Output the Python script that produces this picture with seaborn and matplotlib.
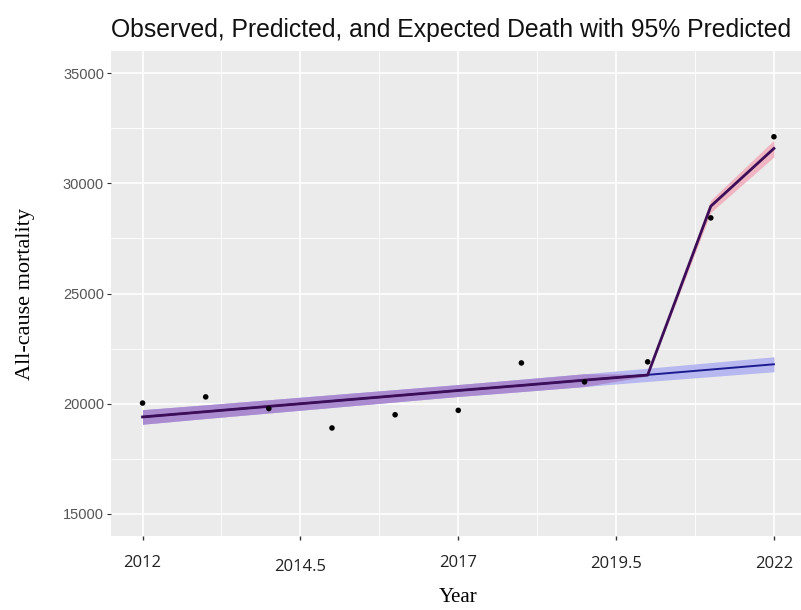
import seaborn as sns
from matplotlib import pyplot as plt
from matplotlib import transforms
import pandas as pd

# values
years = [2012, 2013, 2014, 2015, 2016, 2017, 2018, 2019, 2020, 2021, 2022]
observed = [20030, 20310, 19780, 18900, 19500, 19700, 21850, 20990, 21900, 28430, 32110]
expected = [19400, 19640, 19880, 20120, 20360, 20600, 20830, 21070, 21310, 21550, 21790]
exp_half = [330, 310, 300, 290, 280, 270, 280, 290, 300, 320, 340]
pred_years = [2012, 2013, 2014, 2015, 2016, 2017, 2018, 2019, 2020, 2021, 2022]
predicted = [19400, 19640, 19880, 20120, 20360, 20600, 20830, 21070, 21300, 28960, 31580]
pred_half = [330, 310, 300, 290, 280, 270, 280, 290, 40, 280, 380]

x_ticks = [2012, 2014.5, 2017, 2019.5, 2022]
y_ticks = [15000, 20000, 25000, 30000, 35000]

df = pd.DataFrame({"year": years, "observed": observed, "expected": expected})
df["exp_lo"] = [e - h for e, h in zip(expected, exp_half)]
df["exp_hi"] = [e + h for e, h in zip(expected, exp_half)]
pdf = pd.DataFrame({"year": pred_years, "predicted": predicted})
pdf["lo"] = [p - h for p, h in zip(predicted, pred_half)]
pdf["hi"] = [p + h for p, h in zip(predicted, pred_half)]

fig = plt.figure(figsize=(8.01, 6.10), dpi=100)
ax = fig.add_axes([111 / 801, 74 / 610, (805.5 - 111) / 801, (536 - 51) / 610])
ax.set_facecolor("#EBEBEB")

# ribbons
ax.fill_between(df["year"], df["exp_lo"], df["exp_hi"], color="#b6b8ef", lw=0, zorder=2)
early = pdf[pdf["year"] <= 2020]
late = pdf[pdf["year"] >= 2020]
ax.fill_between(early["year"], early["lo"], early["hi"], color="#ab8bd0", lw=0, zorder=2)
ax.fill_between(late["year"], late["lo"], late["hi"], color="#efb5c1", lw=0, zorder=2)

sns.lineplot(data=df, x="year", y="expected", color="#1c1c90", lw=1.4, ax=ax, zorder=3)
sns.lineplot(data=pdf, x="year", y="predicted", color="#3d0e58", lw=2.0, ax=ax, zorder=4)
sns.scatterplot(data=df, x="year", y="observed", color="black", s=16, edgecolor="none", ax=ax, zorder=5)

ax.set_xticks(x_ticks)
ax.set_yticks(y_ticks)
ax.set_xticks([2013.25, 2015.75, 2018.25, 2020.75], minor=True)
ax.set_yticks([17500, 22500, 27500, 32500], minor=True)
ax.set_xlim(2011.5, 2022.5)
ax.set_ylim(14000, 36000)
ax.grid(which="major", color="white", lw=1.2, zorder=0)
ax.grid(which="minor", color="white", lw=0.6, zorder=0)
ax.set_axisbelow(True)
for s in ax.spines.values():
    s.set_visible(False)

ax.tick_params(axis="y", which="major", length=3, width=0.8, color="#333333",
               labelsize=10.5, labelcolor="#555555", pad=2)
ax.tick_params(axis="x", which="major", length=3, width=1.0, color="#333333",
               labelsize=12, labelcolor="#222222", pad=11)
ax.tick_params(which="minor", length=0)
ax.set_xticklabels([f"{t:g}" for t in x_ticks], family=["Open Sans", "DejaVu Sans"])
ax.set_yticklabels([str(t) for t in y_ticks], family=["Liberation Sans", "DejaVu Sans"])
# the reference has the labels slightly staggered
for lab, dy in zip(ax.get_xticklabels(), [0, -4, 0, -1, -1]):
    lab.set_transform(lab.get_transform() + transforms.ScaledTranslation(0, dy / 100, fig.dpi_scale_trans))

ax.set_xlabel("Year", family=["Liberation Serif", "DejaVu Serif"], fontsize=15, labelpad=9)
ax.set_ylabel("All-cause mortality", family=["Liberation Serif", "DejaVu Serif"], fontsize=16, labelpad=20)
ax.set_title("Observed, Predicted, and Expected Death with 95% Predicted", loc="left",
             family=["Liberation Sans", "DejaVu Sans"], fontsize=17.8, color="#111111", pad=10)

plt.savefig("out.png", dpi=100)
